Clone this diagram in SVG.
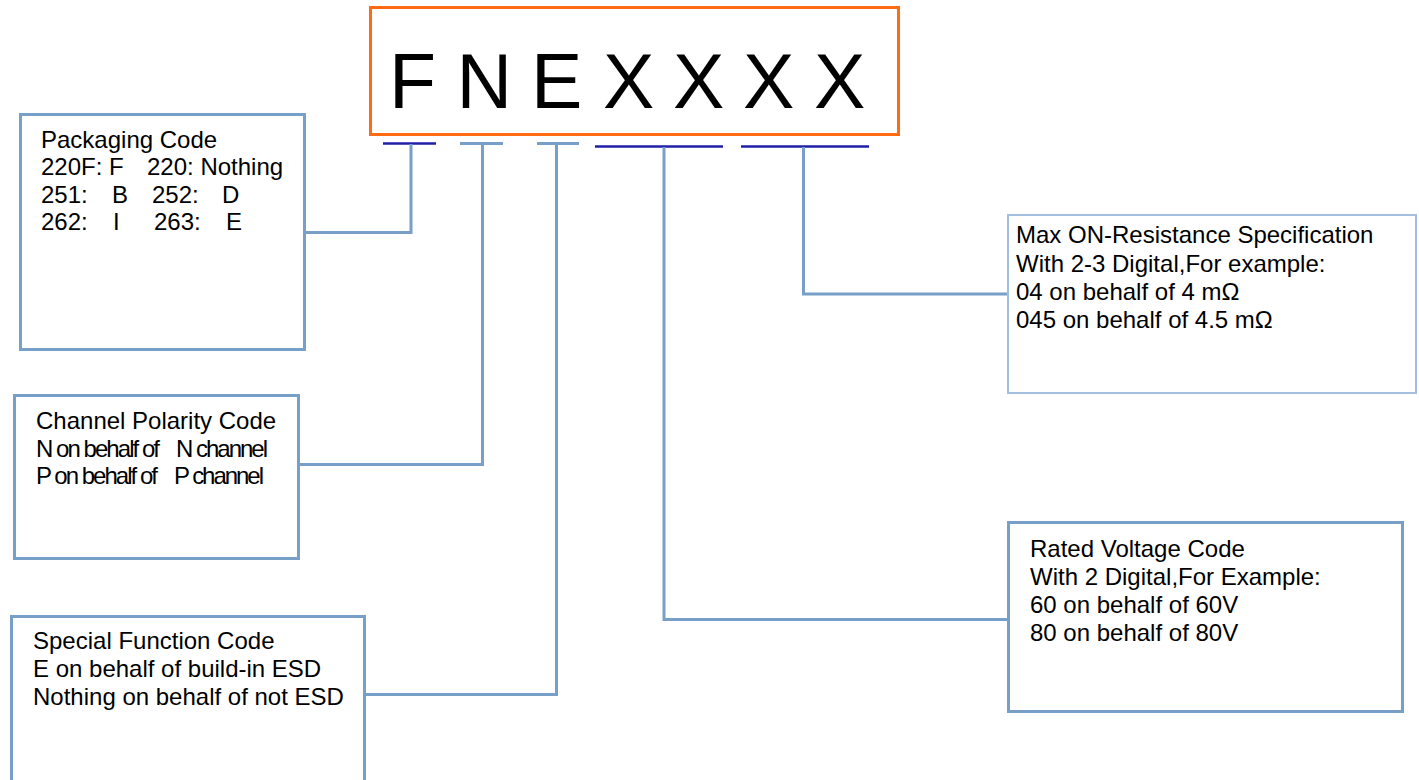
<svg xmlns="http://www.w3.org/2000/svg" width="1419" height="780" viewBox="0 0 1419 780">
<style>
.t{font-family:"Liberation Sans",Arial,sans-serif;font-size:24px;fill:#000}
.big{font-family:"Liberation Sans",Arial,sans-serif;font-size:77px;fill:#000}
.box{fill:#fff;stroke:#779FC7;stroke-width:3}
.boxl{fill:#fff;stroke:#A3BFDD;stroke-width:2}
.conn{fill:none;stroke:#779FC7;stroke-width:3}
.ul-d{stroke:#1F1FA8;stroke-width:2.5}
.ul-l{stroke:#779FC7;stroke-width:3}
</style>
<rect width="1419" height="780" fill="#fff"/>
<g id="code">
<rect x="370.5" y="7.5" width="528" height="127" fill="#fff" stroke="#FF6A13" stroke-width="3"/>
<text class="big" x="389 456.5 531 603 673 743 814" y="108">FNEXXXX</text>
</g>
<g id="connectors">
<line class="ul-d" x1="383" y1="143.5" x2="436" y2="143.5"/>
<line class="ul-l" x1="460" y1="143.5" x2="503" y2="143.5"/>
<line class="ul-l" x1="537" y1="143.5" x2="579" y2="143.5"/>
<line class="ul-d" x1="595" y1="146.5" x2="723" y2="146.5"/>
<line class="ul-d" x1="741" y1="146.5" x2="869" y2="146.5"/>
<polyline class="conn" points="411,144 411,232.5 304,232.5"/>
<polyline class="conn" points="482.5,144 482.5,464.5 299,464.5"/>
<polyline class="conn" points="556.5,144 556.5,694.5 364,694.5"/>
<polyline class="conn" points="664,147 664,619.5 1008,619.5"/>
<polyline class="conn" points="803.5,147 803.5,294 1008,294"/>
</g>
<g id="packaging">
<rect class="box" x="20.5" y="114.5" width="284" height="235"/>
<text class="t" x="41" y="148">Packaging Code</text>
<text class="t" y="175"><tspan x="41">220F: F</tspan><tspan x="147">220: Nothing</tspan></text>
<text class="t" y="203"><tspan x="41">251:</tspan><tspan x="112">B</tspan><tspan x="152">252:</tspan><tspan x="222">D</tspan></text>
<text class="t" y="230"><tspan x="41">262:</tspan><tspan x="113">I</tspan><tspan x="154">263:</tspan><tspan x="226">E</tspan></text>
</g>
<g id="channel">
<rect class="box" x="14.5" y="395.5" width="284" height="163"/>
<text class="t" x="36" y="429">Channel Polarity Code</text>
<text class="t" y="457"><tspan x="36" textLength="124" lengthAdjust="spacing">N on behalf of</tspan><tspan x="176" textLength="92" lengthAdjust="spacing">N channel</tspan></text>
<text class="t" y="484"><tspan x="36" textLength="122" lengthAdjust="spacing">P on behalf of</tspan><tspan x="174" textLength="90" lengthAdjust="spacing">P channel</tspan></text>
</g>
<g id="special">
<rect class="box" x="11.5" y="616.5" width="353" height="180"/>
<text class="t" x="33" y="649">Special Function Code</text>
<text class="t" x="33" y="677">E on behalf of build-in ESD</text>
<text class="t" x="33" y="705">Nothing on behalf of not ESD</text>
</g>
<g id="resistance">
<rect class="boxl" x="1008" y="215" width="408" height="178"/>
<text class="t" x="1016" y="243">Max ON-Resistance Specification</text>
<text class="t" x="1016" y="272">With 2-3 Digital,For example:</text>
<text class="t" x="1016" y="300">04 on behalf of 4 mΩ</text>
<text class="t" x="1016" y="328">045 on behalf of 4.5 mΩ</text>
</g>
<g id="voltage">
<rect class="box" x="1008.5" y="522.5" width="394" height="189"/>
<text class="t" x="1030" y="557">Rated Voltage Code</text>
<text class="t" x="1030" y="585">With 2 Digital,For Example:</text>
<text class="t" x="1030" y="613">60 on behalf of 60V</text>
<text class="t" x="1030" y="641">80 on behalf of 80V</text>
</g>
</svg>
